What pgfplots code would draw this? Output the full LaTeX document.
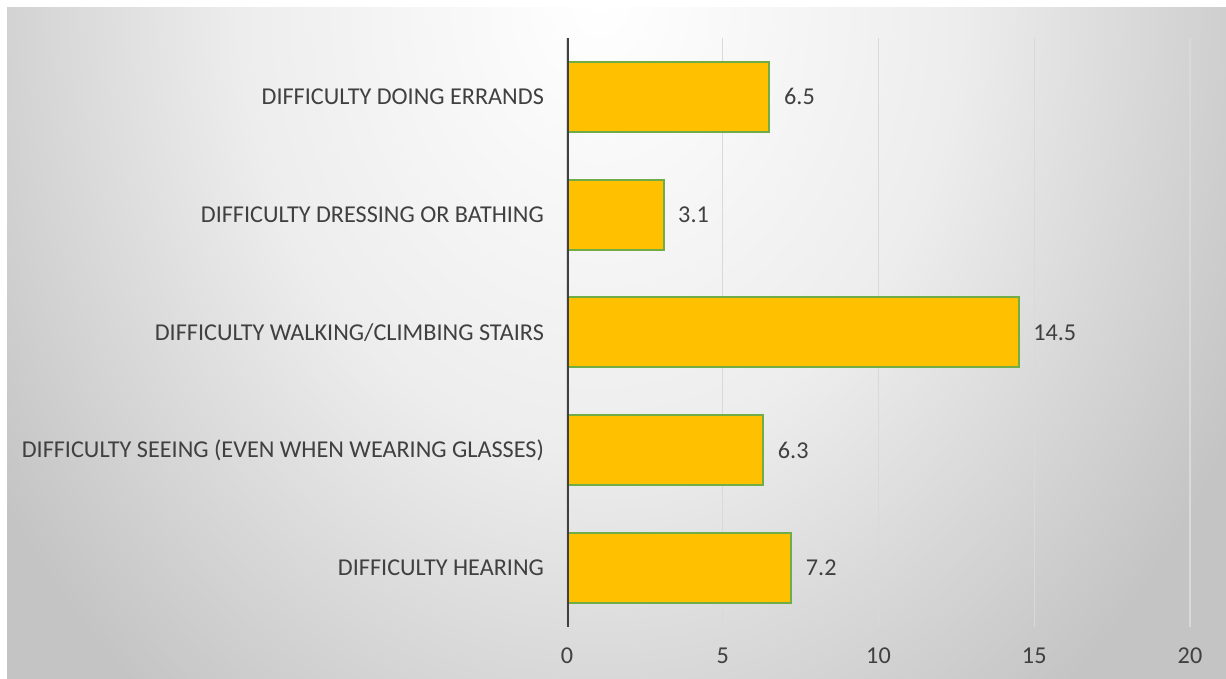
\documentclass[border=0pt]{standalone}
\usepackage{fontspec}
\setmainfont{Carlito}
\usepackage{pgfplots}
\pgfplotsset{compat=1.18}
\definecolor{barfill}{HTML}{FFC000}
\definecolor{baredge}{HTML}{70AD47}
\definecolor{txt}{HTML}{404040}
\definecolor{gridc}{HTML}{D9D9D9}
\definecolor{bgmid}{HTML}{EDEDED}
\definecolor{bgout}{HTML}{C4C4C4}
\pgfdeclareradialshading{bgshade}{\pgfpoint{0bp}{0bp}}{color(0bp)=(white); color(12.5bp)=(bgmid); color(25bp)=(bgout); color(50bp)=(bgout)}
\begin{document}
\begin{tikzpicture}
\useasboundingbox (0,0) rectangle (613pt,339.5pt);
\fill[white] (0,0) rectangle (613pt,339.5pt);
\begin{scope}
\clip (3.5pt,0pt) rectangle (613pt,335.5pt);
\fill[bgout] (3.5pt,0pt) rectangle (613pt,335.5pt);
\shade[shading=bgshade] (300pt,339.5pt) ellipse (360pt and 450pt);
\end{scope}
\begin{axis}[
  at={(283.5pt,26pt)}, anchor=south west,
  scale only axis, width=311.5pt, height=294.5pt,
  xbar, bar width=35pt,
  xmin=0, xmax=20, ymin=-0.5, ymax=4.5,
  xtick={0,5,10,15,20},
  ytick={0,1,2,3,4},
  yticklabels={DIFFICULTY HEARING, DIFFICULTY SEEING (EVEN WHEN WEARING GLASSES), DIFFICULTY WALKING/CLIMBING STAIRS, DIFFICULTY DRESSING OR BATHING, DIFFICULTY DOING ERRANDS},
  axis line style={draw=none},
  major tick length=0pt,
  xmajorgrids, grid style={gridc, line width=0.6pt},
  tick label style={font=\fontsize{12.1}{14}\selectfont, text=txt},
  /pgf/number format/assume math mode=true,
  yticklabel style={xshift=-8pt},
  xticklabel style={yshift=-7pt},
  nodes near coords,
  every node near coord/.append style={font=\fontsize{12.1}{14}\selectfont, text=txt, anchor=west, xshift=3.5pt},
  point meta=explicit symbolic,
]
\addplot[fill=barfill, draw=baredge, line width=1pt] table[meta=label] {
x y label
7.2 0 7.2
6.3 1 6.3
14.5 2 14.5
3.1 3 3.1
6.5 4 6.5
};
\draw[txt, line width=1.8pt] (axis cs:0,-0.5) -- (axis cs:0,4.5);
\end{axis}
\end{tikzpicture}
\end{document}
